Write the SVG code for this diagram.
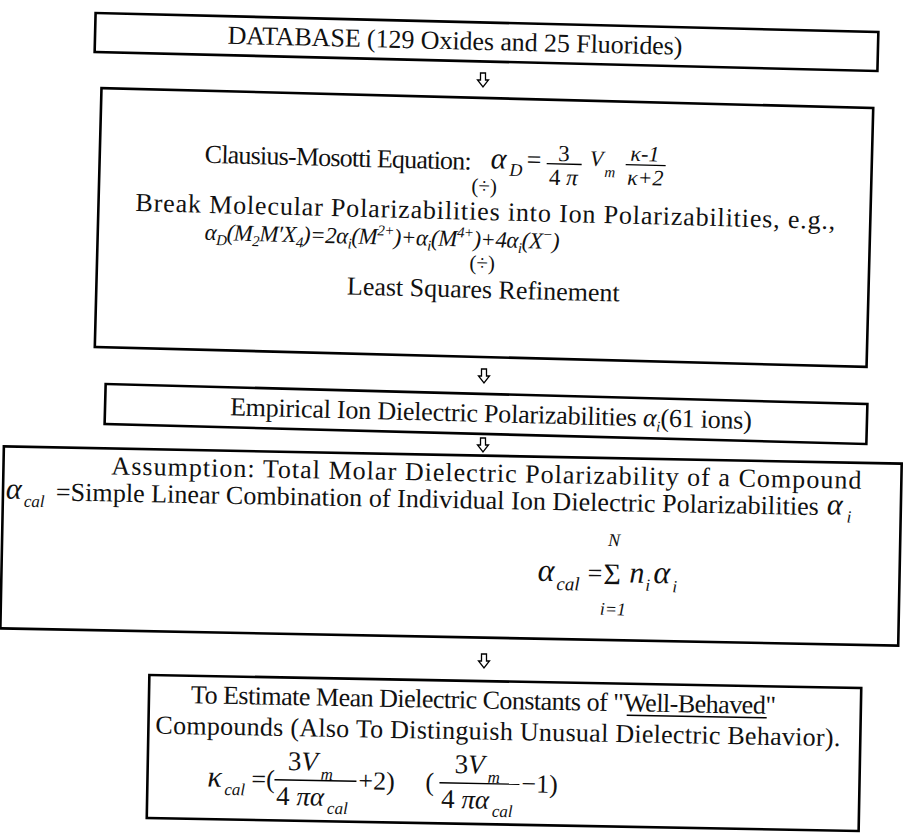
<svg xmlns="http://www.w3.org/2000/svg" width="903" height="837" viewBox="0 0 903 837">
<style>
.bg{fill:#fff}
.box{fill:none;stroke:#000;stroke-width:2.6}
.t{font-family:"Liberation Serif","Times New Roman",serif;fill:#111}
.i{font-style:italic}
.c{text-anchor:middle}
.bar{stroke:#000;stroke-width:1.4}
.arr{fill:#fff;stroke:#000;stroke-width:1.3}
</style>
<defs>
<path id="arrow" class="arr" d="M-2.5,0 h5 v7 h3 l-5.5,7 l-5.5,-7 h3 z"/>
</defs>
<rect class="bg" width="903" height="837"/>

<g id="connectors">
<use href="#arrow" x="483" y="73"/>
<use href="#arrow" x="484" y="369"/>
<use href="#arrow" x="483" y="438"/>
<use href="#arrow" x="484" y="654"/>
</g>

<g id="database" transform="rotate(1.39 486 42)" font-size="26">
<rect class="box" x="95" y="22.5" width="783" height="39"/>
<text class="t c" x="455" y="50" textLength="455" lengthAdjust="spacing">DATABASE (129 Oxides and 25 Fluorides)</text>
</g>

<g id="clausius" transform="rotate(1.48 484 228)" font-size="26">
<rect class="box" x="98" y="98" width="772" height="259"/>
<text class="t" x="203" y="170" textLength="267" lengthAdjust="spacing">Clausius-Mosotti Equation:</text>
<text class="t i" x="489" y="168" font-size="30">α</text>
<text class="t i" x="508" y="175" font-size="18">D</text>
<text class="t" x="525" y="167" font-size="26">=</text>
<text class="t c" x="562" y="159" font-size="23">3</text>
<line class="bar" x1="545" y1="162" x2="580" y2="162"/>
<text class="t c" x="562" y="183" font-size="23">4 <tspan class="i">π</tspan></text>
<text class="t i" x="588" y="163" font-size="22">V</text>
<text class="t i" x="603" y="174" font-size="15">m</text>
<text class="t c i" x="643" y="157" font-size="22">κ-1</text>
<line class="bar" x1="624" y1="161" x2="664" y2="161"/>
<text class="t c i" x="644" y="181" font-size="22">κ+2</text>
<text class="t c" x="483" y="193" font-size="21">(÷)</text>
<text class="t" x="135" y="220" textLength="700" lengthAdjust="spacing">Break Molecular Polarizabilities into Ion Polarizabilities, e.g.,</text>
<text class="t i" x="205" y="247" font-size="23" textLength="355" lengthAdjust="spacing">α<tspan font-size="15" dy="5">D</tspan><tspan dy="-5">(M</tspan><tspan font-size="15" dy="5">2</tspan><tspan dy="-5">M′X</tspan><tspan font-size="15" dy="5">4</tspan><tspan dy="-5">)=2α</tspan><tspan font-size="15" dy="5">i</tspan><tspan dy="-5">(M</tspan><tspan font-size="15" dy="-9">2+</tspan><tspan dy="9">)+α</tspan><tspan font-size="15" dy="5">i</tspan><tspan dy="-5">(M</tspan><tspan font-size="15" dy="-9">4+</tspan><tspan dy="9">)+4α</tspan><tspan font-size="15" dy="5">i</tspan><tspan dy="-5">(X</tspan><tspan font-size="15" dy="-9">−</tspan><tspan dy="9">)</tspan></text>
<text class="t c" x="483" y="270" font-size="21">(÷)</text>
<text class="t c" x="485" y="298">Least Squares Refinement</text>
</g>

<g id="empirical" transform="rotate(1.5 486 414)" font-size="26">
<rect class="box" x="105" y="394" width="762" height="40"/>
<text class="t" x="230" y="422" textLength="522" lengthAdjust="spacing">Empirical Ion Dielectric Polarizabilities <tspan class="i" font-size="26">α</tspan><tspan class="i" font-size="15" dy="5">i</tspan><tspan dy="-5">(61 ions)</tspan></text>
</g>

<g id="assumption" transform="rotate(1.1 451 548)" font-size="26">
<rect class="box" x="2" y="455" width="898" height="182"/>
<text class="t c" x="485" y="481" textLength="750" lengthAdjust="spacing">Assumption: Total Molar Dielectric Polarizability of a Compound</text>
<text class="t i" x="5" y="507" font-size="30">α</text>
<text class="t i" x="23" y="515" font-size="17">cal</text>
<text class="t" x="55" y="508" textLength="763" lengthAdjust="spacing">=Simple Linear Combination of Individual Ion Dielectric Polarizabilities</text>
<text class="t i" x="826" y="507" font-size="30">α</text>
<text class="t i" x="846" y="515" font-size="17">i</text>
<text class="t i" x="538" y="579" font-size="32">α</text>
<text class="t i" x="557" y="588" font-size="19">cal</text>
<text class="t" x="588" y="579" font-size="26">=</text>
<text class="t" x="604" y="581" font-size="30">Σ</text>
<text class="t i c" x="614" y="543" font-size="18">N</text>
<text class="t i c" x="614" y="612" font-size="18">i=1</text>
<text class="t i" x="630" y="579" font-size="30">n</text>
<text class="t i" x="646" y="587" font-size="17">i</text>
<text class="t i" x="654" y="579" font-size="32">α</text>
<text class="t i" x="673" y="588" font-size="17">i</text>
</g>

<g id="estimate" transform="rotate(1.05 504 753)" font-size="26">
<rect class="box" x="148" y="681.5" width="712" height="143"/>
<text class="t" x="190" y="709" textLength="585" lengthAdjust="spacing">To Estimate Mean Dielectric Constants of "Well-Behaved"</text>
<line class="bar" x1="626" y1="713" x2="766" y2="713" stroke-width="1.2"/>
<text class="t" x="155" y="740" textLength="685" lengthAdjust="spacing">Compounds (Also To Distinguish Unusual Dielectric Behavior).</text>
<text class="t i" x="208" y="792" font-size="30">κ</text>
<text class="t i" x="225" y="800" font-size="17">cal</text>
<text class="t" x="252" y="792" font-size="26">=(</text>
<text class="t" x="288" y="774" font-size="27">3<tspan class="i">V</tspan></text>
<text class="t i" x="321" y="783" font-size="17">m</text>
<line class="bar" x1="275" y1="784" x2="357" y2="784"/>
<text class="t" x="277" y="809" font-size="27">4 <tspan class="i">πα</tspan></text>
<text class="t i" x="328" y="817" font-size="17">cal</text>
<text class="t" x="359" y="792" font-size="26">+2)</text>
<text class="t" x="426" y="792" font-size="26">(</text>
<text class="t" x="455" y="774" font-size="27">3<tspan class="i">V</tspan></text>
<text class="t i" x="488" y="783" font-size="17">m</text>
<line class="bar" x1="440" y1="784" x2="520" y2="784"/>
<text class="t" x="442" y="809" font-size="27">4 <tspan class="i">πα</tspan></text>
<text class="t i" x="493" y="817" font-size="17">cal</text>
<text class="t" x="522" y="792" font-size="26">−1)</text>
</g>
</svg>
